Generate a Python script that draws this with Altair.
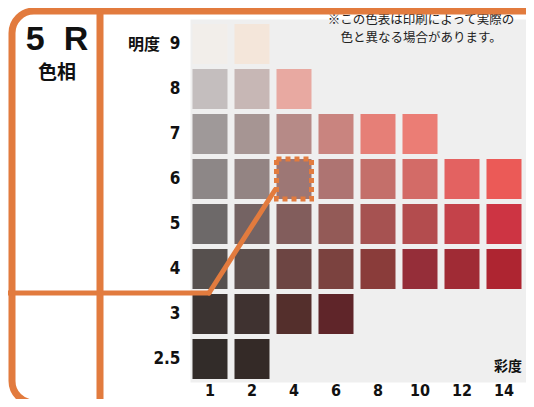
import altair as alt
import pandas as pd

# ---- data -------------------------------------------------------------
value_labels = ["9", "8", "7", "6", "5", "4", "3", "2.5"]
chroma_labels = ["1", "2", "4", "6", "8", "10", "12", "14"]

row_9 = ["#F2EEEA", "#F4E6DA"]
row_8 = ["#C4BEBE", "#C7B7B5", "#E8A9A1"]
row_7 = ["#9F9999", "#A69593", "#B68A87", "#C9847F", "#E67F77", "#EB7D75"]
row_6 = ["#8D8787", "#938483", "#9D7775", "#AE7472", "#C46F6A", "#D36B67", "#E36261", "#EB5A57"]
row_5 = ["#6D6969", "#746363", "#825D5C", "#935A57", "#A65251", "#B34C4E", "#C4424A", "#CD3443"]
row_4 = ["#56504E", "#5D504E", "#6D4543", "#7B423F", "#8A3C3A", "#952E39", "#A02B35", "#AE2531"]
row_3 = ["#3C3432", "#3F3230", "#542F2C", "#5F2529"]
row_25 = ["#322C29", "#342A27"]
rows = [row_9, row_8, row_7, row_6, row_5, row_4, row_3, row_25]

hue_label = "5\u00a0\u00a0R"
hue_title = "色相"
value_title = "明度"
chroma_title = "彩度"
note_line_1 = "※この色表は印刷によって実際の"
note_line_2 = "色と異なる場合があります。"
highlight_value = "6"
highlight_chroma = "4"

records = []
for v, colors in zip(value_labels, rows):
    for c, col in zip(chroma_labels, colors):
        records.append({"value": v, "chroma": c, "color": col})
df = pd.DataFrame(records)

ORANGE = "#E27B3E"
NUM_FONT = "Liberation Sans Narrow, DejaVu Sans Condensed, Roboto Condensed, Arial Narrow, Roboto, sans-serif"
JP_FONT = "Noto Sans CJK JP"

x_enc = alt.X(
    "chroma:N",
    sort=chroma_labels,
    scale=alt.Scale(domain=chroma_labels, range=[-1, 335], paddingInner=0.1667, paddingOuter=0.0833),
    axis=alt.Axis(title=None, orient="bottom", domain=False, ticks=False, grid=False,
                  labelAngle=0, labelFont=NUM_FONT, labelFontSize=16, labelFontWeight="bold",
                  labelColor="#111111", labelPadding=0, labelBaseline="top"),
)
y_enc = alt.Y(
    "value:N",
    sort=value_labels,
    scale=alt.Scale(domain=value_labels, range=[2.5, 362.5], paddingInner=0.111, paddingOuter=0.0556),
    axis=alt.Axis(title=None, orient="left", domain=False, ticks=False, grid=False,
                  labelFont=NUM_FONT, labelFontSize=17, labelFontWeight="bold",
                  labelColor="#111111", labelPadding=10),
)

cells = alt.Chart(df).mark_rect().encode(
    x=x_enc, y=y_enc, color=alt.Color("color:N", scale=None)
)

highlight = alt.Chart(df).transform_filter(
    (alt.datum.value == highlight_value) & (alt.datum.chroma == highlight_chroma)
).mark_rect(fill="transparent", stroke=ORANGE, strokeWidth=5, strokeDash=[5, 4]).encode(
    x=x_enc, y=y_enc
)

one = pd.DataFrame({"k": [0]})

def txt(text, x, y, size, weight="bold", align="center", baseline="middle", font=JP_FONT, color="#111111", **kw):
    return alt.Chart(one).mark_text(
        text=text, font=font, fontSize=size, fontWeight=weight, align=align,
        baseline=baseline, color=color, **kw
    ).encode(x=alt.value(x), y=alt.value(y))

t_hue = txt(hue_label, -133, 21, 34, font="Liberation Sans, Arial, sans-serif")
t_hue_title = txt(hue_title, -133, 54, 19)
t_value = txt(value_title, -30, 26, 16, align="right")
t_chroma = txt(chroma_title, 332, 348, 14, align="right")
t_note1 = txt(note_line_1, 231, 0.5, 12.5, weight="normal", color="#222222")
t_note2 = txt(note_line_2, 231, 18.8, 12.5, weight="normal", color="#222222")

frame = alt.Chart(one).mark_rect(
    fill="transparent", stroke=ORANGE, strokeWidth=7, cornerRadius=22
).encode(x=alt.value(-178), x2=alt.value(420), y=alt.value(-8), y2=alt.value(384))

vbar = alt.Chart(one).mark_rule(color=ORANGE, strokeWidth=7).encode(
    x=alt.value(-90), y=alt.value(-8), y2=alt.value(400)
)
hline = alt.Chart(one).mark_rule(color=ORANGE, strokeWidth=5, strokeCap="round").encode(
    x=alt.value(-195), x2=alt.value(19), y=alt.value(274)
)
diag = alt.Chart(one).mark_rule(color=ORANGE, strokeWidth=5, strokeCap="round").encode(
    x=alt.value(19), x2=alt.value(85), y=alt.value(274), y2=alt.value(171)
)

chart = alt.layer(
    cells, highlight, t_hue, t_hue_title, t_value, t_chroma, t_note1, t_note2,
    frame, vbar, hline, diag
).properties(
    width=336, height=363,
    padding={"left": 182, "top": 11, "right": 0, "bottom": 17},
    autosize=alt.AutoSizeParams(type="none"),
    background="white",
).configure_view(fill="#EFEFEF", stroke="transparent")

chart.save("out.html", embed_options={"renderer": "svg", "actions": False})
